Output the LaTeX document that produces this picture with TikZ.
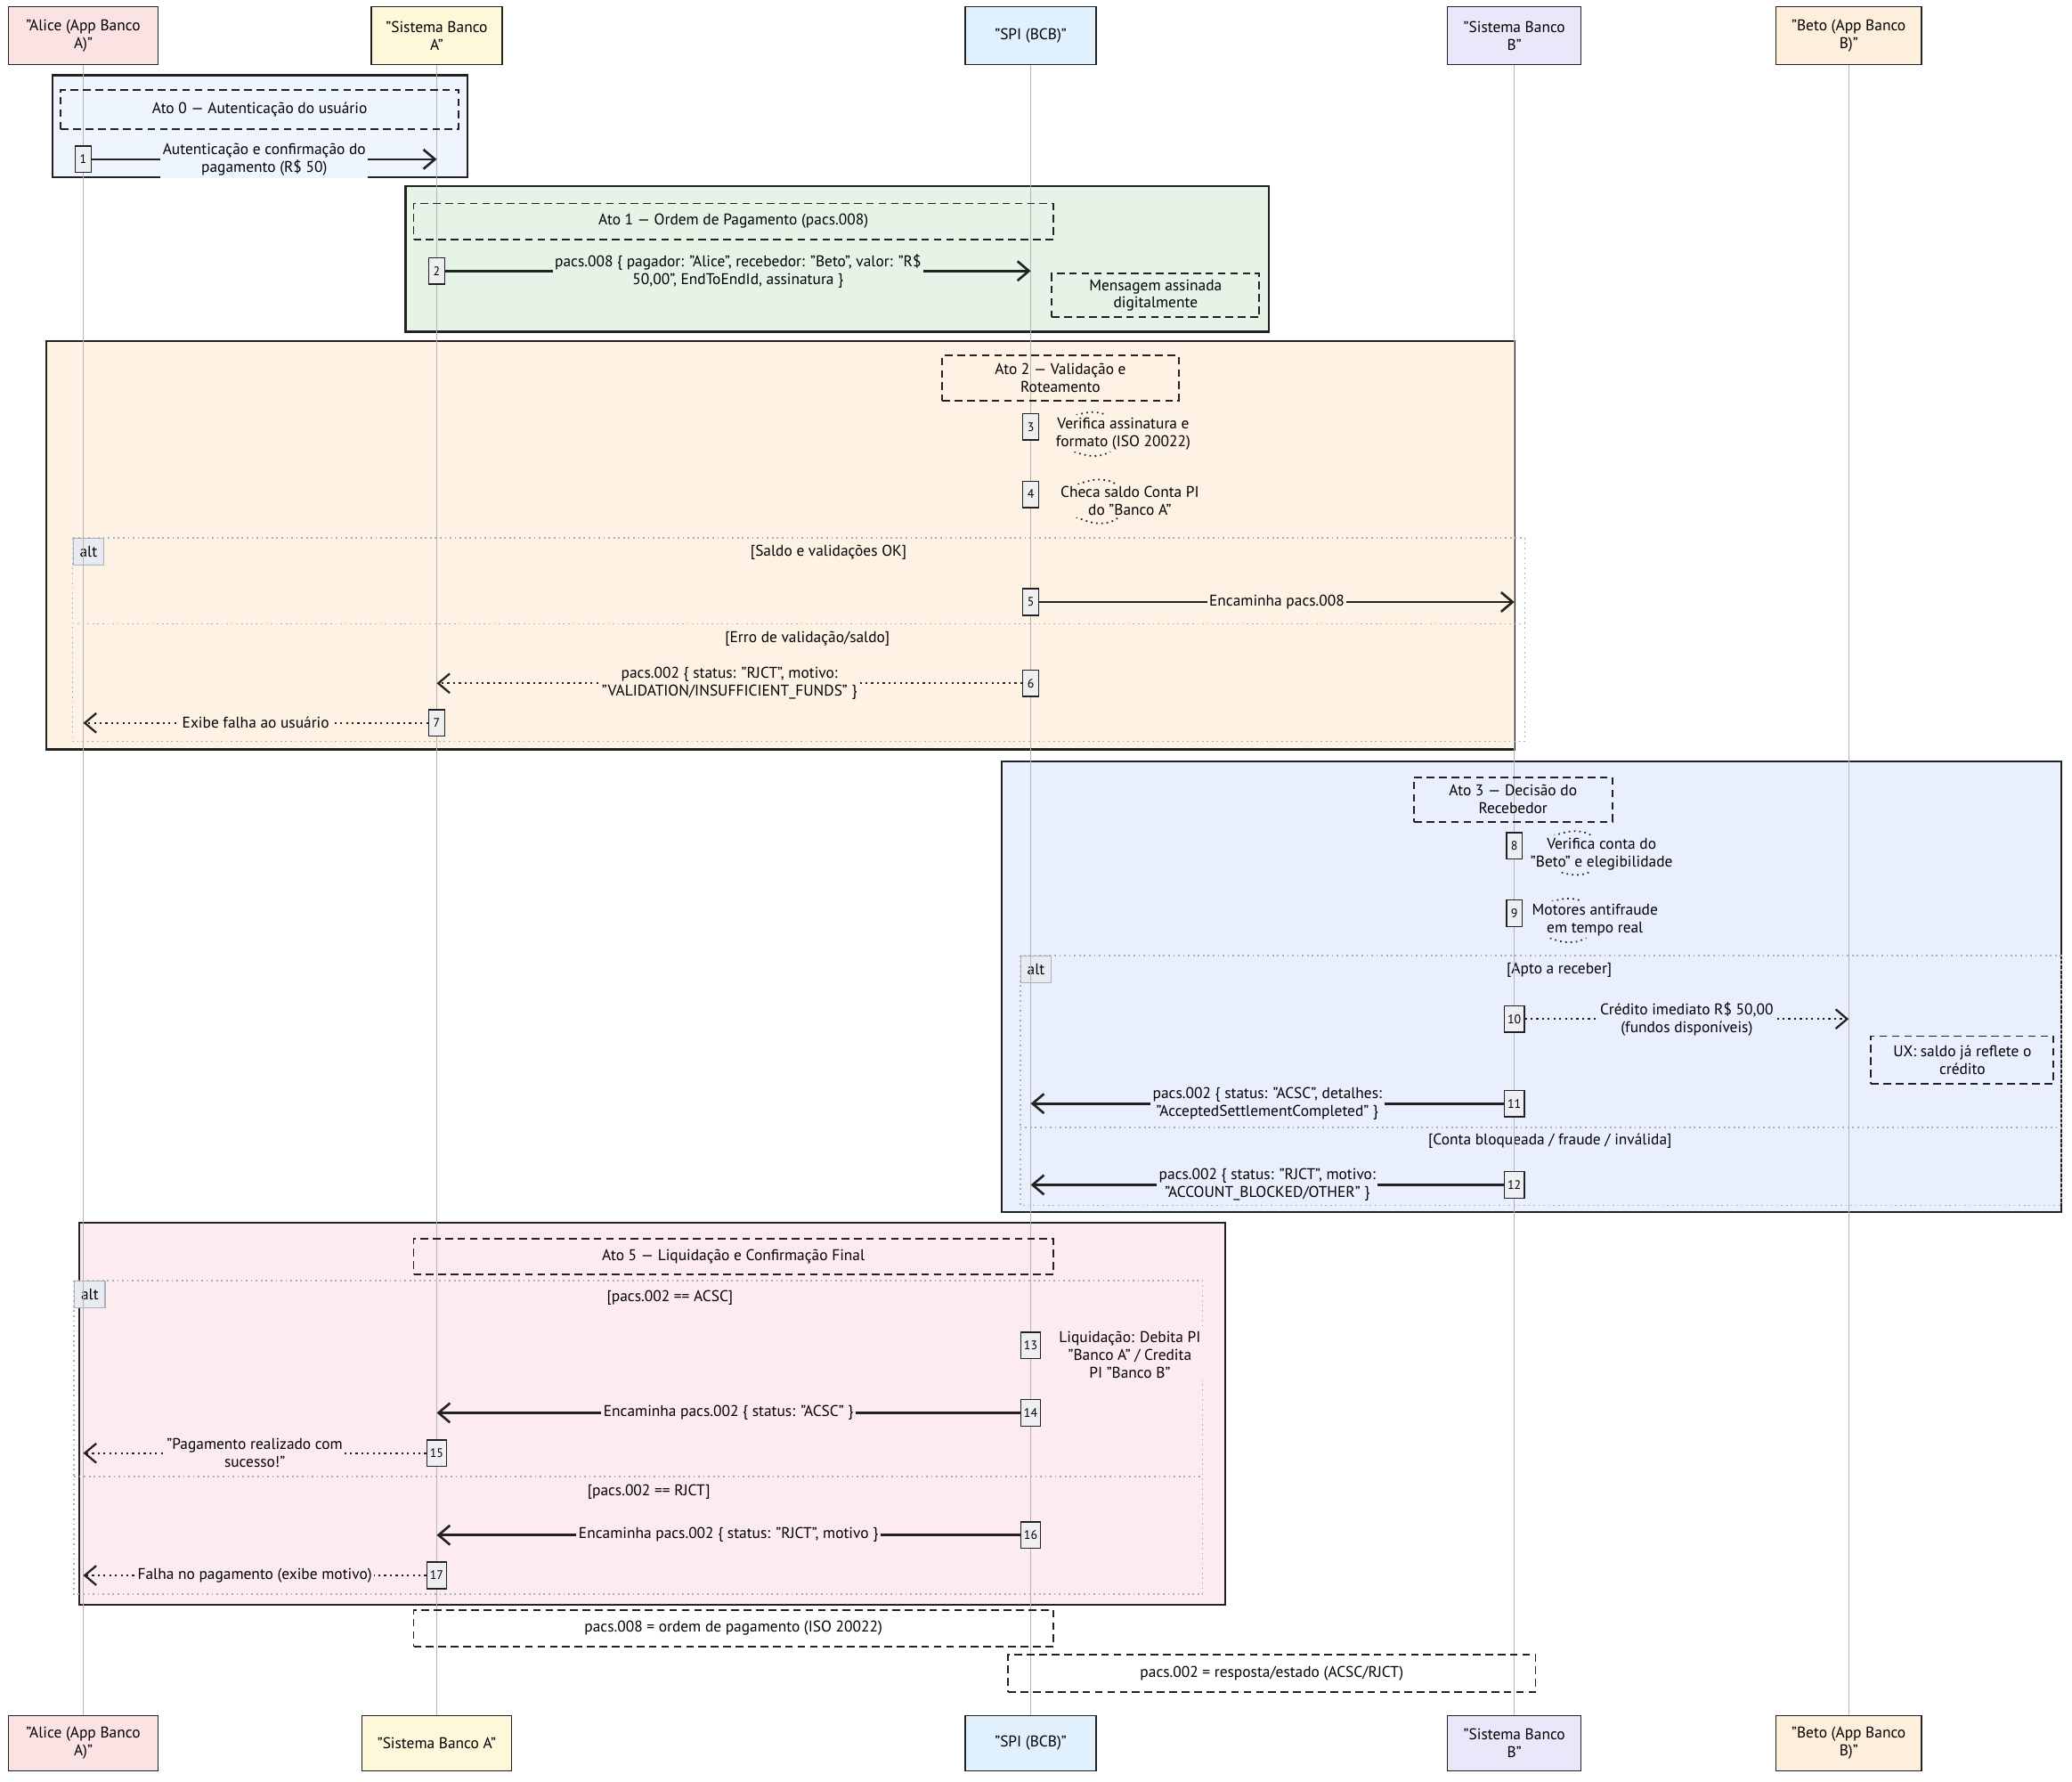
\documentclass[tikz,border=0pt]{standalone}
\usepackage{fontspec}
\setmainfont{PT Sans}
\usetikzlibrary{arrows.meta,positioning,calc}
\definecolor{ink}{HTML}{222222}
\definecolor{lifec}{HTML}{B4B4B4}
\definecolor{altc}{HTML}{A9B0BA}
\definecolor{altf}{HTML}{E8ECF2}
\definecolor{actf}{HTML}{EDEFF2}
\definecolor{pAlice}{HTML}{FBE2E3}
\definecolor{pBancoA}{HTML}{FEF7DA}
\definecolor{pSPI}{HTML}{E0F0FC}
\definecolor{pBancoB}{HTML}{ECE6FB}
\definecolor{pBeto}{HTML}{FEEFDC}
\definecolor{bgzero}{HTML}{EFF5FE}
\definecolor{bgone}{HTML}{E6F4E7}
\definecolor{bgtwo}{HTML}{FEF2E5}
\definecolor{bgthree}{HTML}{E9EFFD}
\definecolor{bgfive}{HTML}{FDECEF}
\tikzset{
  actor/.style={draw=ink,thick,fill=#1,align=center,minimum height=1.32cm,inner sep=2pt},
  blk/.style={draw=ink,line width=1.3pt},
  altbox/.style={draw=altc,line width=1pt,dash pattern=on 1pt off 2.2pt},
  altlbl/.style={draw=altc,fill=altf,thick,anchor=north west,minimum width=0.69cm,minimum height=0.6cm,inner sep=1pt},
  notebox/.style={draw=ink,line width=1.1pt,dash pattern=on 5pt off 3pt,align=center},
  life/.style={draw=lifec,line width=0.6pt},
  act/.style={draw=ink,thick,fill=actf,minimum width=0.36cm,minimum height=0.6cm,inner sep=2pt,font=\fontsize{8}{9}\selectfont},
  msg/.style={draw=ink,line width=1.5pt,-{Straight Barb[length=2.6mm,width=4.4mm]}},
  reply/.style={draw=ink,line width=1.3pt,dash pattern=on 1.3pt off 2.4pt,-{Straight Barb[length=2.6mm,width=4.4mm]}},
  mlbl/.style={fill=#1,align=center,inner sep=1.5pt},
  selfc/.style={draw=ink,line width=1pt,dash pattern=on 1pt off 2.4pt},
}

\begin{document}
\begin{tikzpicture}[x=0.03cm,y=-0.03cm,every node/.append style={font=\fontsize{10}{11.5}\selectfont}]
  \useasboundingbox (0,0) rectangle (1568,1348);
  % ===================== participants =====================
  \node[actor=pAlice,minimum width=3.39cm] (alice) at (63,27) {"Alice (App Banco\\A)"};
  \node[actor=pBancoA,minimum width=2.97cm] (bancoA) at (330.5,27) {"Sistema Banco\\A"};
  \node[actor=pSPI,minimum width=2.97cm] (spi) at (780,27) {"SPI (BCB)"};
  \node[actor=pBancoB,minimum width=3.03cm] (bancoB) at (1146,27) {"Sistema Banco\\B"};
  \node[actor=pBeto,minimum width=3.3cm] (beto) at (1399,27) {"Beto (App Banco\\B)"};
  \node[actor=pAlice,minimum width=3.39cm,minimum height=1.26cm] (alice-b) at (63,1319) {"Alice (App Banco\\A)"};
  \node[actor=pBancoA,minimum width=3.39cm,minimum height=1.26cm] (bancoA-b) at (330.5,1319) {"Sistema Banco A"};
  \node[actor=pSPI,minimum width=2.97cm,minimum height=1.26cm] (spi-b) at (780,1319) {"SPI (BCB)"};
  \node[actor=pBancoB,minimum width=3.03cm,minimum height=1.26cm] (bancoB-b) at (1146,1319) {"Sistema Banco\\B"};
  \node[actor=pBeto,minimum width=3.3cm,minimum height=1.26cm] (beto-b) at (1399,1319) {"Beto (App Banco\\B)"};
  % ===================== blocks and alt frames =====================
  \draw[blk,fill=bgzero] (40,57) rectangle (354,134);
  \draw[blk,fill=bgone] (307,141) rectangle (960,251);
  \draw[blk,fill=bgtwo] (35,258) rectangle (1146,567);
  \draw[blk,fill=bgthree] (758,576) rectangle (1560,917);
  \draw[blk,fill=bgfive] (60,925) rectangle (927,1214);
  \draw[altbox] (55,407) rectangle (1154,561);
  \draw[altbox] (55,472) -- (1154,472);
  \draw[altbox] (772,723) rectangle (1560,912);
  \draw[altbox] (772,853) -- (1560,853);
  \draw[altbox] (56,969) rectangle (910,1206);
  \draw[altbox] (56,1117) -- (910,1117);
  \node[altlbl] (alt2) at (55,407) {alt};
  \node[altlbl] (alt3) at (772,723) {alt};
  \node[altlbl] (alt5) at (56,969) {alt};
  \node (c2a) at (627,418) {[Saldo e validações OK]};
  \node (c2b) at (611,483) {[Erro de validação/saldo]};
  \node (c3a) at (1180,734) {[Apto a receber]};
  \node (c3b) at (1173,863) {[Conta bloqueada / fraude / inválida]};
  \node (c5a) at (507,982) {[pacs.002 == ACSC]};
  \node (c5b) at (491,1129) {[pacs.002 == RJCT]};
  % lifelines
  \foreach \p in {alice,bancoA,spi,bancoB,beto} \draw[life] (\p) -- (\p-b);
  % ===================== Ato 0 =====================
  \node[notebox,minimum width=9.03cm,minimum height=0.9cm] (ato0) at (196.5,83) {Ato 0 — Autenticação do usuário};
  \node[act] (a1) at (63,120.5) {1};
  \draw[msg] (a1.east) -- (a1.east -| bancoA) node[mlbl=bgzero,midway] {Autenticação e confirmação do\\pagamento (R\$ 50)};
  % ===================== Ato 1 =====================
  \node[notebox,minimum width=14.52cm,minimum height=0.81cm] (ato1) at (555,167.5) {Ato 1 — Ordem de Pagamento (pacs.008)};
  \node[act] (a2) at (330.5,205) {2};
  \draw[msg] (a2.east) -- (a2.east -| spi) node[mlbl=bgone,midway] {pacs.008 \{ pagador: "Alice", recebedor: "Beto", valor: "R\$\\50,00", EndToEndId, assinatura \}};
  \node[notebox,minimum width=4.71cm,minimum height=0.99cm] (sig) at (874.5,223.5) {Mensagem assinada\\digitalmente};
  % ===================== Ato 2 =====================
  \node[notebox,minimum width=5.37cm,minimum height=1.02cm] (ato2) at (802.5,286) {Ato 2 — Validação e\\Roteamento};
  \node[act] (a3) at (780,323) {3};
  \draw[selfc] (800,321) .. controls (862,284) and (862,374) .. (800,335);
  \node[mlbl=bgtwo] (s3) at (850,328) {Verifica assinatura e\\formato (ISO 20022)};
  \node[act] (a4) at (780,374) {4};
  \draw[selfc] (805,372) .. controls (867,335) and (867,425) .. (805,386);
  \node[mlbl=bgtwo] (s4) at (855,379) {Checa saldo Conta PI\\do "Banco A"};
  \node[act] (a5) at (780,455.5) {5};
  \draw[msg] (a5.east) -- (a5.east -| bancoB) node[mlbl=bgtwo,midway] {Encaminha pacs.008};
  \node[act] (a6) at (780,517) {6};
  \draw[reply] (a6.west) -- (a6.west -| bancoA) node[mlbl=bgtwo,midway] {pacs.002 \{ status: "RJCT", motivo:\\"VALIDATION/INSUFFICIENT\_FUNDS" \}};
  \node[act] (a7) at (330.5,547) {7};
  \draw[reply] (a7.west) -- (a7.west -| alice) node[mlbl=bgtwo,midway] {Exibe falha ao usuário};
  % ===================== Ato 3 =====================
  \node[notebox,minimum width=4.5cm,minimum height=1.02cm] (ato3) at (1145,605) {Ato 3 — Decisão do\\Recebedor};
  \node[act] (a8) at (1146,640) {8};
  \draw[selfc] (1165,638) .. controls (1227,601) and (1227,691) .. (1165,652);
  \node[mlbl=bgthree] (s8) at (1212,646) {Verifica conta do\\"Beto" e elegibilidade};
  \node[act] (a9) at (1146,691) {9};
  \draw[selfc] (1160,689) .. controls (1222,652) and (1222,742) .. (1160,703);
  \node[mlbl=bgthree] (s9) at (1207,696) {Motores antifraude\\em tempo real};
  \node[act] (a10) at (1146,771) {10};
  \draw[reply] (a10.east) -- (a10.east -| beto) node[mlbl=bgthree,midway] {Crédito imediato R\$ 50,00\\(fundos disponíveis)};
  \node[notebox,minimum width=4.14cm,minimum height=1.08cm] (ux) at (1485,802) {UX: saldo já reflete o\\crédito};
  \node[act] (a11) at (1146,835) {11};
  \draw[msg] (a11.west) -- (a11.west -| spi) node[mlbl=bgthree,midway] {pacs.002 \{ status: "ACSC", detalhes:\\"AcceptedSettlementCompleted" \}};
  \node[act] (a12) at (1146,896.5) {12};
  \draw[msg] (a12.west) -- (a12.west -| spi) node[mlbl=bgthree,midway] {pacs.002 \{ status: "RJCT", motivo:\\"ACCOUNT\_BLOCKED/OTHER" \}};
  % ===================== Ato 5 =====================
  \node[notebox,minimum width=14.52cm,minimum height=0.81cm] (ato5) at (555,950.5) {Ato 5 — Liquidação e Confirmação Final};
  \node[act] (a13) at (780,1018) {13};
  \node[mlbl=bgfive] (s13) at (855,1025) {Liquidação: Debita PI\\"Banco A" / Credita\\PI "Banco B"};
  \node[act] (a14) at (780,1069) {14};
  \draw[msg] (a14.west) -- (a14.west -| bancoA) node[mlbl=bgfive,midway] {Encaminha pacs.002 \{ status: "ACSC" \}};
  \node[act] (a15) at (330.5,1099.5) {15};
  \draw[reply] (a15.west) -- (a15.west -| alice) node[mlbl=bgfive,midway] {"Pagamento realizado com\\sucesso!"};
  \node[act] (a16) at (780,1161.5) {16};
  \draw[msg] (a16.west) -- (a16.west -| bancoA) node[mlbl=bgfive,midway] {Encaminha pacs.002 \{ status: "RJCT", motivo \}};
  \node[act] (a17) at (330.5,1192) {17};
  \draw[reply] (a17.west) -- (a17.west -| alice) node[mlbl=bgfive,midway] {Falha no pagamento (exibe motivo)};
  % ===================== glossary notes =====================
  \node[notebox,minimum width=14.52cm,minimum height=0.84cm] (def8) at (555,1232) {pacs.008 = ordem de pagamento (ISO 20022)};
  \node[notebox,minimum width=11.97cm,minimum height=0.84cm] (def2) at (962.5,1266) {pacs.002 = resposta/estado (ACSC/RJCT)};
\end{tikzpicture}
\end{document}
